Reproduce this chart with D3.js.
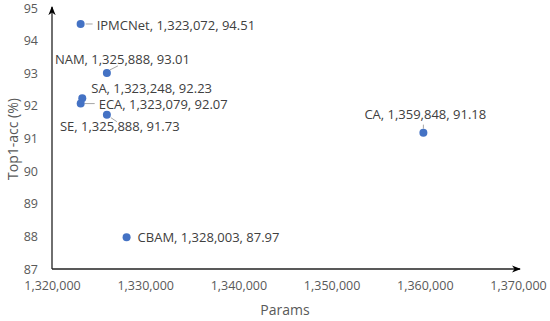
<!DOCTYPE html>
<html><head><meta charset="utf-8">
<script src="https://cdn.jsdelivr.net/npm/d3@7"></script>
<style>
body{margin:0;background:#fff;}
svg text{font-family:"Open Sans","Liberation Sans",sans-serif;}
</style></head>
<body><svg id="c" width="550" height="321"></svg>
<script>
const names = ["IPMCNet","NAM","SA","ECA","SE","CBAM","CA"];
const params = [1323072,1325888,1323248,1323079,1325888,1328003,1359848];
const acc = [94.51,93.01,92.23,92.07,91.73,87.97,91.18];
const xTicks = [1320000,1330000,1340000,1350000,1360000,1370000];
const yTicks = [87,88,89,90,91,92,93,94,95];

// label layout (dx, dy of text start/center relative to point, leader line)
const labelLayout = [
  {dx:16, dy:1, line:[[5,0],[12,0]]},
  {dx:-52, dy:-13, line:[[3,-3],[11,-7]]},
  {dx:9, dy:-10, line:null},
  {dx:18, dy:1, line:[[4,0],[14,0]]},
  {dx:-47, dy:12, line:[[4,3],[10,7]]},
  {dx:11, dy:0, line:null},
  {dx:-59, dy:-18, line:[[0,-4],[0,-8]]}
];

const svg = d3.select("#c");
const x = d3.scaleLinear().domain([1320000,1370000]).range([52,518]);
const y = d3.scaleLinear().domain([87,95]).range([269,8]);
const fmt = d3.format(",");
const grey = "#595959";

// axes
const xa = svg.append("g").attr("transform","translate(0,269)")
  .call(d3.axisBottom(x).tickValues(xTicks).tickFormat(fmt).tickSize(0).tickPadding(12));
xa.select(".domain").remove();
xa.selectAll("text").attr("fill",grey).attr("font-size","12.5px");
const ya = svg.append("g").attr("transform","translate(52,0)")
  .call(d3.axisLeft(y).tickValues(yTicks).tickSize(0).tickPadding(14));
ya.select(".domain").remove();
ya.selectAll("text").attr("fill",grey).attr("font-size","12.5px");

// arrows
const defs = svg.append("defs");
defs.append("marker").attr("id","arr").attr("viewBox","0 0 10 10").attr("refX",9).attr("refY",5)
  .attr("markerWidth",7).attr("markerHeight",7).attr("orient","auto")
  .append("path").attr("d","M0,1 L10,5 L0,9 L3,5 Z").attr("fill","#000");
svg.append("line").attr("x1",52).attr("y1",269).attr("x2",520).attr("y2",269)
  .attr("stroke","#222").attr("stroke-width",1.3).attr("marker-end","url(#arr)");
svg.append("line").attr("x1",52).attr("y1",269).attr("x2",52).attr("y2",7)
  .attr("stroke","#222").attr("stroke-width",1.3).attr("marker-end","url(#arr)");

// titles
svg.append("text").attr("x",285).attr("y",315).attr("text-anchor","middle")
  .attr("fill",grey).attr("font-size","14px").text("Params");
svg.append("text").attr("transform","translate(18,139) rotate(-90)").attr("text-anchor","middle")
  .attr("fill",grey).attr("font-size","14px").text("Top1-acc (%)");

// points
const data = names.map((n,i)=>({n, p:params[i], a:acc[i], L:labelLayout[i]}));
const g = svg.append("g");
data.forEach(d=>{
  const px = x(d.p), py = y(d.a);
  if(d.L.line){
    g.append("line").attr("x1",px+d.L.line[0][0]).attr("y1",py+d.L.line[0][1])
     .attr("x2",px+d.L.line[1][0]).attr("y2",py+d.L.line[1][1])
     .attr("stroke","#a6a6a6").attr("stroke-width",1);
  }
  g.append("text").attr("x",px+d.L.dx).attr("y",py+d.L.dy).attr("dy","0.35em")
    .attr("fill","#404040").attr("font-size","13px")
    .text(`${d.n}, ${fmt(d.p)}, ${d.a.toFixed(2)}`);
});
g.selectAll("circle").data(data).join("circle")
  .attr("cx",d=>x(d.p)).attr("cy",d=>y(d.a)).attr("r",4).attr("fill","#4472C4");
</script></body></html>
